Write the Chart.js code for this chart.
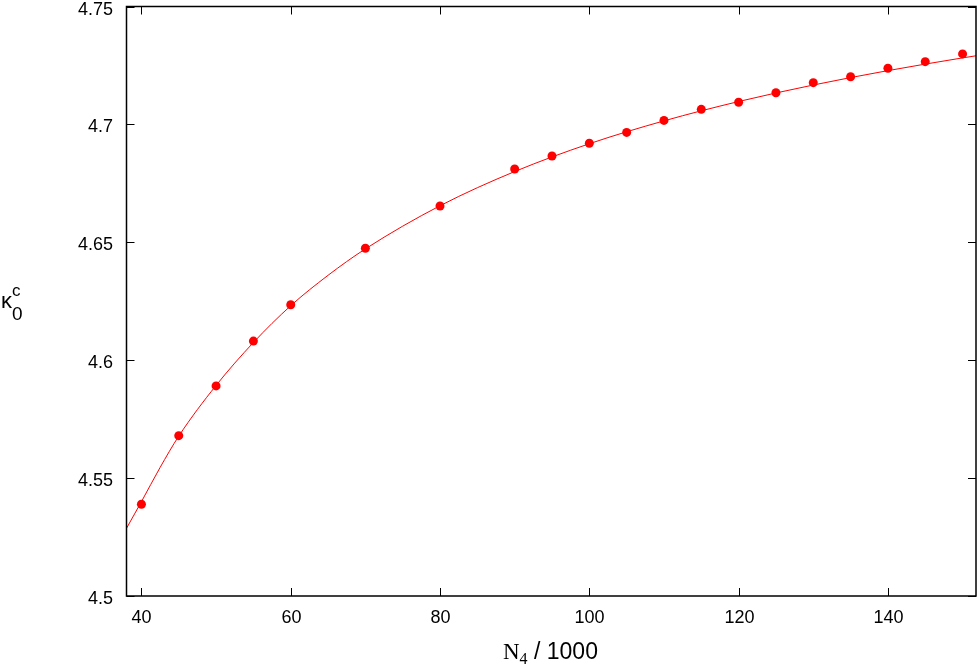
<!DOCTYPE html>
<html lang="en">
<head>
    <meta charset="UTF-8">
    <title>kappa_0^c vs N4</title>
    <style>
        body { margin: 0; background: white; }
        canvas { display: block; }
    </style>
</head>
<body>
    <canvas id="chart" width="978" height="667"></canvas>

    <script src="https://cdn.jsdelivr.net/npm/chart.js"></script>
    <script>
        // Data
        const sizes = [40, 45, 50, 55, 60, 70, 80, 90, 95, 100, 105, 110, 115, 120, 125, 130, 135, 140, 145, 150];
        const kappaC = [4.5389, 4.5680, 4.5891, 4.6081, 4.6235, 4.6475, 4.6654, 4.6811, 4.6866, 4.6920,
                        4.6966, 4.7017, 4.7064, 4.7094, 4.7134, 4.7177, 4.7202, 4.7238, 4.7266, 4.7299];

        // fitted curve
        const fitX = [38, 40, 42.5, 45, 50, 55, 60, 65, 70, 80, 90, 100, 110, 120, 130, 140, 150, 151.8];
        const fitY = [4.5287, 4.5400, 4.5545, 4.5678, 4.5893, 4.6075, 4.6231, 4.6360, 4.6472, 4.6655,
                      4.6800, 4.6918, 4.7015, 4.7097, 4.7167, 4.7228, 4.7282, 4.7291];

        const xTicks = [40, 60, 80, 100, 120, 140];
        const yTicks = [4.5, 4.55, 4.6, 4.65, 4.7, 4.75];

        const FONT = "'Liberation Sans', Arial, sans-serif";

        // frame, inward ticks on all four sides, tick labels and axis titles
        const framePlugin = {
            id: 'frame',
            afterDraw(chart) {
                const ctx = chart.ctx;
                const a = chart.chartArea;
                const xs = chart.scales.x, ys = chart.scales.y;
                const tl = 8;
                ctx.save();
                ctx.strokeStyle = '#000';
                ctx.fillStyle = '#000';
                ctx.lineWidth = 1;
                ctx.font = '18px ' + FONT;
                ctx.textBaseline = 'alphabetic';
                ctx.beginPath();
                ctx.textAlign = 'center';
                xTicks.forEach(v => {
                    const px = Math.round(xs.getPixelForValue(v)) + 0.5;
                    ctx.moveTo(px, a.bottom); ctx.lineTo(px, a.bottom - tl);
                    ctx.moveTo(px, a.top); ctx.lineTo(px, a.top + tl);
                    ctx.fillText(String(v), px, a.bottom + 27);
                });
                ctx.textAlign = 'right';
                yTicks.forEach(v => {
                    const py = Math.round(ys.getPixelForValue(v)) + 0.5;
                    ctx.moveTo(a.left, py); ctx.lineTo(a.left + tl, py);
                    ctx.moveTo(a.right, py); ctx.lineTo(a.right - tl, py);
                    ctx.fillText(String(v), 113, py + 7.5);
                });
                ctx.stroke();
                ctx.lineWidth = 1.5;
                ctx.strokeRect(a.left, a.top, a.right - a.left, a.bottom - a.top);

                // x title: N_4 / 1000
                ctx.textAlign = 'left';
                let x = 503, base = 659;
                ctx.font = "23px 'Liberation Serif', 'Times New Roman', serif";
                ctx.fillText('N', x, base);
                x += ctx.measureText('N').width;
                ctx.font = "16px 'Liberation Serif', 'Times New Roman', serif";
                ctx.fillText('4', x, base + 5);
                x += ctx.measureText('4').width;
                ctx.font = '23px ' + FONT;
                ctx.fillText(' / 1000', x, base);

                // y title: kappa_0^c
                ctx.font = '22px ' + FONT;
                ctx.fillText('\u03ba', 1, 308);
                ctx.font = '19px ' + FONT;
                ctx.fillText('0', 12, 320);
                ctx.font = '17px ' + FONT;
                ctx.fillText('c', 12, 296);
                ctx.restore();
            }
        };

        new Chart(document.getElementById('chart'), {
            type: 'scatter',
            data: {
                datasets: [
                    {
                        label: 'data',
                        data: sizes.map((v, i) => ({ x: v, y: kappaC[i] })),
                        showLine: false,
                        pointRadius: 4.5,
                        pointHoverRadius: 4.5,
                        pointBackgroundColor: '#ff0000',
                        pointBorderWidth: 0,
                        order: 0
                    },
                    {
                        label: 'fit',
                        data: fitX.map((v, i) => ({ x: v, y: fitY[i] })),
                        showLine: true,
                        borderColor: '#ff0000',
                        borderWidth: 1,
                        pointRadius: 0,
                        cubicInterpolationMode: 'monotone',
                        order: 1
                    }
                ]
            },
            options: {
                responsive: false,
                animation: false,
                maintainAspectRatio: false,
                layout: { autoPadding: false, padding: { top: 6.5, right: 2, left: 0, bottom: 0 } },
                plugins: { legend: { display: false }, tooltip: { enabled: false } },
                scales: {
                    x: {
                        type: 'linear',
                        min: 38,
                        max: 151.8,
                        grid: { display: false, drawTicks: false },
                        border: { display: false },
                        afterBuildTicks: s => { s.ticks = xTicks.map(v => ({ value: v })); },
                        afterFit: s => { s.height = 71; s.paddingLeft = 0; s.paddingRight = 0; },
                        ticks: { display: false }
                    },
                    y: {
                        type: 'linear',
                        min: 4.5,
                        max: 4.75,
                        grid: { display: false, drawTicks: false },
                        border: { display: false },
                        afterBuildTicks: s => { s.ticks = yTicks.map(v => ({ value: v })); },
                        afterFit: s => { s.width = 126.5; s.paddingTop = 0; s.paddingBottom = 0; },
                        ticks: { display: false }
                    }
                }
            },
            plugins: [framePlugin]
        });
    </script>
</body>
</html>
